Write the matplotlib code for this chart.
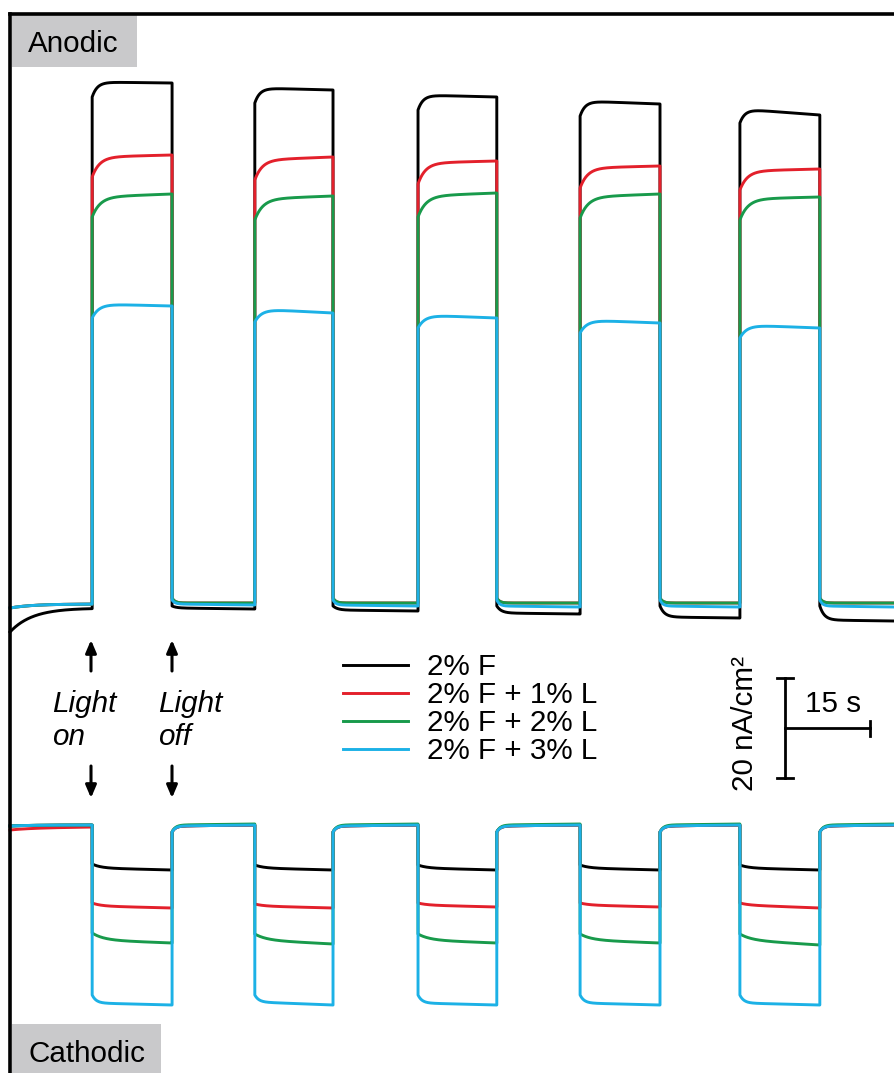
import numpy as np
import matplotlib.pyplot as plt
from matplotlib.patches import Rectangle

plt.rcParams['font.family'] = ['Liberation Sans', 'DejaVu Sans']

W, H = 894, 1073

# light switching times (s)
t_on = [14.5, 43.2, 72.0, 100.6, 128.8]
t_off = [28.6, 57.0, 85.9, 114.7, 142.9]
t_end = 156.0

labels = ['2% F', '2% F + 1% L', '2% F + 2% L', '2% F + 3% L']
colors = ['#000000', '#e3202b', '#189a4b', '#1cb1e6']

# anodic current (nA/cm2) for each light-on period: (jump, start, end)
an_on_2F = [(101.8, 104.8, 104.6), (100.6, 103.6, 103.2), (99.2, 102.2, 101.8),
            (98.0, 101.0, 100.4), (96.6, 99.4, 98.2)]
an_on_1L = [(85.8, 89.8, 90.2), (85.2, 89.2, 89.8), (84.4, 88.6, 89.0),
            (83.6, 87.6, 88.0), (83.2, 87.0, 87.4)]
an_on_2L = [(77.8, 81.8, 82.4), (77.2, 81.4, 82.0), (77.8, 82.0, 82.6),
            (77.6, 81.8, 82.4), (77.2, 81.4, 81.8)]
an_on_3L = [(57.6, 60.4, 60.0), (56.8, 59.4, 58.6), (55.6, 58.2, 57.6),
            (54.6, 57.2, 56.6), (53.6, 56.2, 55.6)]
# anodic current for each dark period (before, between and after pulses)
an_off_2F = [(-5.2, -0.3, -0.4), (0.0, -0.4, -0.6), (0.0, -0.8, -1.0),
             (0.0, -1.4, -1.6), (0.0, -2.2, -2.4), (0.0, -2.8, -3.0)]
an_off_1L = [(-0.4, 0.4, 0.4), (1.6, 0.6, 0.6), (1.6, 0.6, 0.6),
             (1.6, 0.6, 0.6), (1.6, 0.6, 0.6), (1.6, 0.6, 0.6)]
an_off_2L = [(-0.4, 0.4, 0.4), (1.6, 0.6, 0.6), (1.6, 0.6, 0.6),
             (1.6, 0.6, 0.6), (1.6, 0.6, 0.6), (1.6, 0.6, 0.6)]
an_off_3L = [(-0.4, 0.4, 0.4), (1.2, 0.4, 0.2), (1.2, 0.2, 0.0),
             (1.2, 0.0, -0.2), (1.2, 0.0, -0.2), (1.2, 0.0, -0.2)]

# cathodic current (nA/cm2) for each light-on period: (jump, start, end)
ca_on_2F = [(-7.6, -8.4, -8.8), (-7.8, -8.4, -8.8), (-7.8, -8.4, -8.8),
            (-7.8, -8.4, -8.8), (-7.8, -8.4, -8.8)]
ca_on_1L = [(-15.4, -16.0, -16.4), (-15.6, -16.0, -16.4), (-15.4, -15.8, -16.2),
            (-15.4, -15.8, -16.2), (-15.4, -15.8, -16.4)]
ca_on_2L = [(-21.4, -22.8, -23.4), (-21.6, -22.8, -23.6), (-21.6, -22.8, -23.4),
            (-21.6, -22.8, -23.4), (-21.6, -22.8, -23.8)]
ca_on_3L = [(-33.8, -35.4, -35.8), (-33.8, -35.2, -35.8), (-33.8, -35.4, -35.8),
            (-33.8, -35.4, -35.8), (-33.8, -35.4, -35.8)]
ca_off_2F = [(0.0, 0.2, 0.2), (-1.2, 0.0, 0.2), (-1.2, 0.0, 0.2),
             (-1.2, 0.0, 0.2), (-1.2, 0.0, 0.2), (-1.2, 0.0, 0.2)]
ca_off_1L = [(-0.8, -0.4, -0.2), (-1.2, 0.0, 0.2), (-1.2, 0.0, 0.2),
             (-1.2, 0.0, 0.2), (-1.2, 0.0, 0.2), (-1.2, 0.0, 0.2)]
ca_off_2L = [(0.0, 0.2, 0.2), (-1.2, 0.2, 0.4), (-1.2, 0.2, 0.4),
             (-1.2, 0.2, 0.4), (-1.2, 0.2, 0.4), (-1.2, 0.2, 0.4)]
ca_off_3L = [(0.0, 0.2, 0.2), (-1.2, 0.0, 0.2), (-1.2, 0.0, 0.2),
             (-1.2, 0.0, 0.2), (-1.2, 0.0, 0.2), (-1.2, 0.0, 0.2)]

# settling times (s) of the rounded corners after each switch
an_tau_on = [0.9, 1.3, 1.4, 1.2]
an_tau_off = [0.8, 0.5, 0.5, 0.5]
ca_tau_on = [1.5, 1.5, 2.0, 0.7]
ca_tau_off = [0.6, 0.6, 0.6, 0.6]
tau_first = 4.0

an_on = [an_on_2F, an_on_1L, an_on_2L, an_on_3L]
an_off = [an_off_2F, an_off_1L, an_off_2L, an_off_3L]
ca_on = [ca_on_2F, ca_on_1L, ca_on_2L, ca_on_3L]
ca_off = [ca_off_2F, ca_off_1L, ca_off_2L, ca_off_3L]

ca_shift = -44.0   # vertical offset of the cathodic traces on the page


def build(on_lv, off_lv, tau_on, tau_off):
    edges = [0.0]
    for a, b in zip(t_on, t_off):
        edges += [a, b]
    edges.append(t_end)
    segs = [(off_lv[0], tau_first)]
    for i in range(len(t_on)):
        segs += [(on_lv[i], tau_on), (off_lv[i + 1], tau_off)]
    ts, vs = [], []
    for t0, t1, ((j, s, e), tau) in zip(edges[:-1], edges[1:], segs):
        t = np.linspace(t0, t1, 200)
        lin = s + (e - s) * (t - t0) / (t1 - t0)
        ts.append(t)
        vs.append(lin + (j - s) * np.exp(-(t - t0) / tau))
    return np.concatenate(ts), np.concatenate(vs)


fig = plt.figure(figsize=(W / 100, H / 100), dpi=100)
ax = fig.add_axes([0, 0, 1, 1])
xs, ys = 5.667, 5.0   # px per s, px per nA/cm2
ax.set_xlim(-10 / xs, (W - 10) / xs)
ax.set_ylim((606 - H) / ys, 606 / ys)
ax.axis('off')


def fx(px):
    return px / W


def fy(py):
    return 1 - py / H


handles = []
for k in range(4):
    t, v = build(an_on[k], an_off[k], an_tau_on[k], an_tau_off[k])
    h, = ax.plot(t, v, color=colors[k], lw=2.1, zorder=2 + k, solid_joinstyle='round')
    handles.append(h)
    t, v = build(ca_on[k], ca_off[k], ca_tau_on[k], ca_tau_off[k])
    ax.plot(t, v + ca_shift, color=colors[k], lw=2.1, zorder=2 + k, solid_joinstyle='round')

# frame (left and top edges)
ax.plot([fx(10), fx(10)], [fy(14), 0], transform=ax.transAxes, color='black', lw=2.6,
        solid_capstyle='projecting', clip_on=False, zorder=10)
ax.plot([fx(10), 1], [fy(14), fy(14)], transform=ax.transAxes, color='black', lw=2.6,
        solid_capstyle='projecting', clip_on=False, zorder=10)

# panel labels
fs = 21.3
ax.add_patch(Rectangle((fx(12), fy(67)), fx(137) - fx(12), fy(15) - fy(67),
                       transform=ax.transAxes, color='#c9c9cb', lw=0, zorder=9))
ax.text(fx(28), fy(52), 'Anodic', transform=ax.transAxes, fontsize=fs,
        va='baseline', ha='left', zorder=11)
ax.add_patch(Rectangle((fx(12), 0), fx(161) - fx(12), fy(1024),
                       transform=ax.transAxes, color='#c9c9cb', lw=0, zorder=9))
ax.text(fx(29), fy(1062), 'Cathodic', transform=ax.transAxes, fontsize=fs,
        va='baseline', ha='left', zorder=11)

# light on / off markers
arrow = dict(arrowstyle='-|>,head_length=0.75,head_width=0.32', color='black', lw=2.2,
             shrinkA=0, shrinkB=0)
for x0, word, tx in [(91, 'on', 52), (172, 'off', 158)]:
    ax.annotate('', xy=(fx(x0), fy(640)), xytext=(fx(x0), fy(671)),
                xycoords='axes fraction', arrowprops=arrow)
    ax.annotate('', xy=(fx(x0), fy(798)), xytext=(fx(x0), fy(766)),
                xycoords='axes fraction', arrowprops=arrow)
    ax.text(fx(tx), fy(712), 'Light', transform=ax.transAxes, fontsize=fs,
            style='italic', va='baseline')
    ax.text(fx(tx), fy(745), word, transform=ax.transAxes, fontsize=fs,
            style='italic', va='baseline')

# legend
ax.legend(handles, labels, loc='upper left', bbox_to_anchor=(fx(343), fy(653)),
          frameon=False, fontsize=fs, handlelength=2.2, handletextpad=0.65,
          labelspacing=0.0, borderaxespad=0, borderpad=0)

# scale bar: 20 nA/cm2 vertical, 15 s horizontal
bx = (785 - 10) / xs
by = (606 - 778) / ys
ax.plot([bx, bx], [by, by + 20], color='black', lw=2)
ax.plot([bx - 1.4, bx + 1.4], [by, by], color='black', lw=2)
ax.plot([bx - 1.4, bx + 1.4], [by + 20, by + 20], color='black', lw=2)
ax.plot([bx, bx + 15], [by + 10, by + 10], color='black', lw=2)
ax.plot([bx + 15, bx + 15], [by + 8.5, by + 11.5], color='black', lw=2)
ax.text(bx + 3.5, by + 12, '15 s', fontsize=fs, va='bottom', ha='left')
ax.text(bx - 7, by + 11, '20 nA/cm²', fontsize=fs, rotation=90, va='center', ha='center')

fig.savefig('out.png', dpi=100)
